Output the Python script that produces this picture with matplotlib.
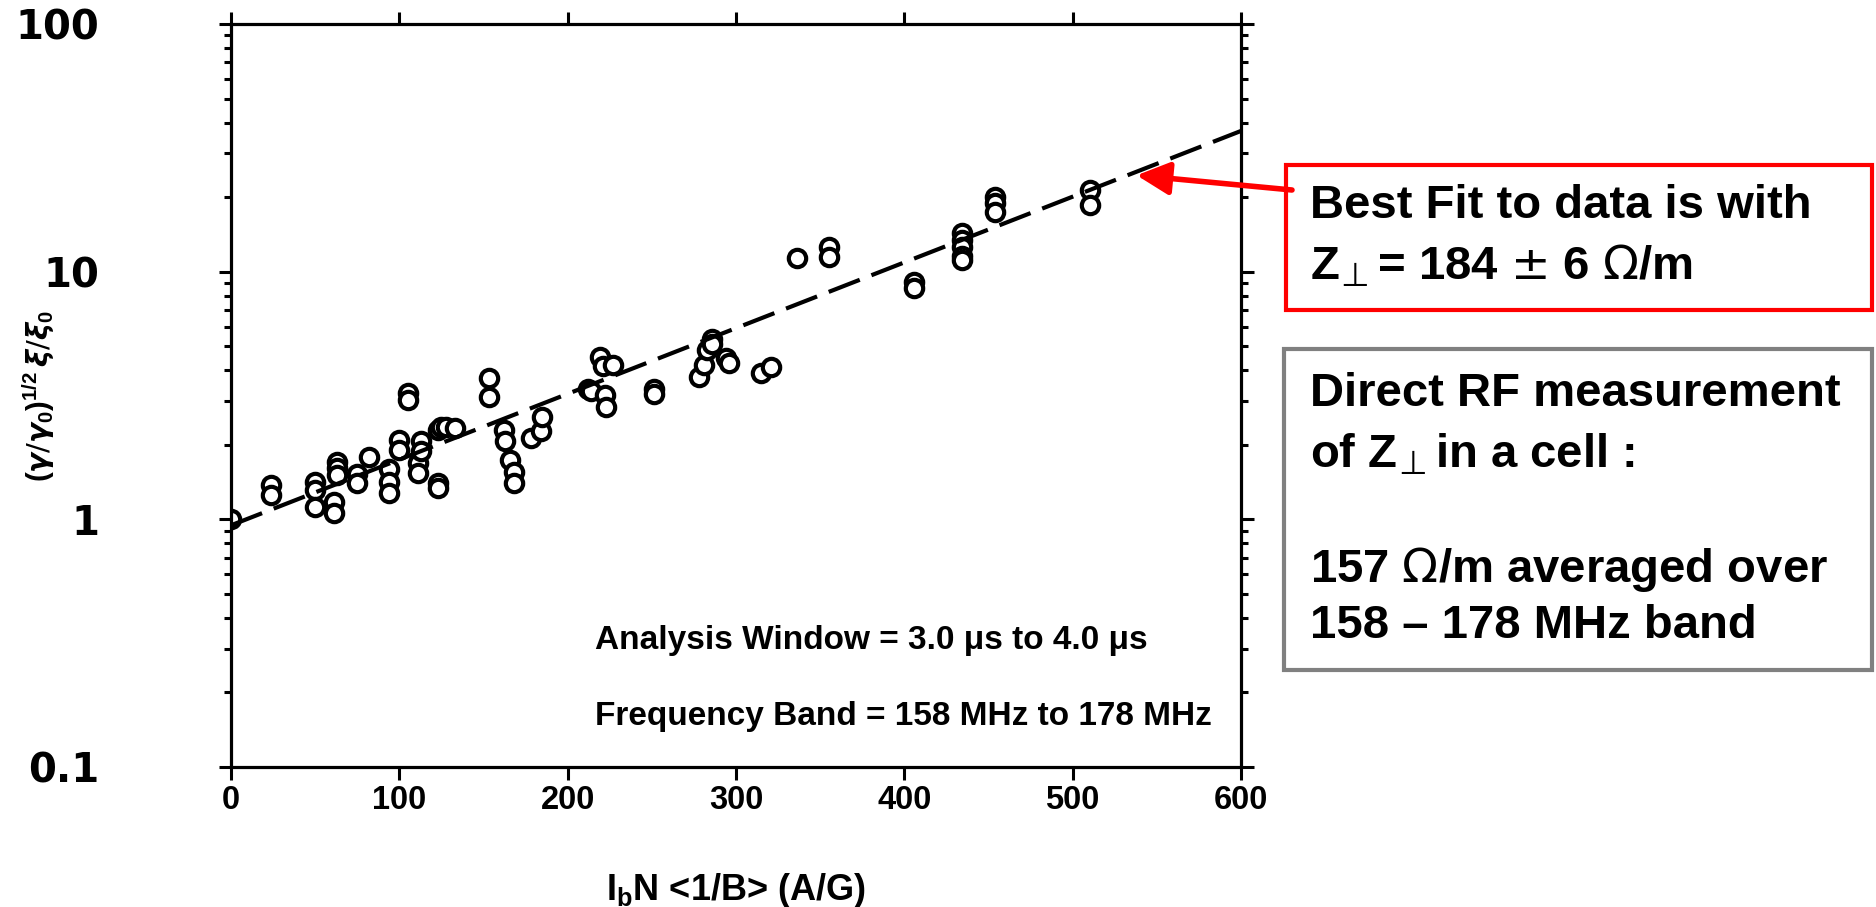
import matplotlib
matplotlib.use("Agg")
import matplotlib.pyplot as plt
from matplotlib.patches import Rectangle
from matplotlib.ticker import FixedLocator, LogLocator, NullFormatter

plt.rcParams['font.family'] = ['Liberation Sans', 'DejaVu Sans']
plt.rcParams['mathtext.fontset'] = 'custom'
plt.rcParams['mathtext.rm'] = 'DejaVu Sans'
plt.rcParams['mathtext.it'] = 'DejaVu Sans:italic:bold'
plt.rcParams['mathtext.bf'] = 'Liberation Sans:bold'
plt.rcParams['mathtext.fallback'] = 'stixsans'

ib_n = [0,
        24, 24,
        50, 50, 50,
        61, 61,
        63, 63, 63,
        75, 75,
        82,
        94, 94, 94,
        100, 100,
        105, 105,
        111, 111,
        113, 113,
        123, 123, 123,
        125, 128, 133,
        153, 153,
        162, 163, 166, 168, 168,
        178, 184, 185,
        212, 214,
        219, 221, 227,
        222, 223,
        251, 251,
        278, 281, 283, 286, 286,
        294, 296,
        315, 321,
        336,
        355, 355,
        406, 406,
        434, 434, 434, 434, 434,
        454, 454, 454,
        510, 510]
growth = [1.00,
          1.37, 1.25,
          1.41, 1.31, 1.12,
          1.17, 1.06,
          1.70, 1.61, 1.51,
          1.52, 1.40,
          1.79,
          1.60, 1.41, 1.28,
          2.09, 1.90,
          3.25, 3.03,
          1.69, 1.54,
          2.07, 1.88,
          2.30, 1.40, 1.34,
          2.36, 2.36, 2.33,
          3.72, 3.13,
          2.29, 2.07, 1.74, 1.56, 1.40,
          2.13, 2.27, 2.59,
          3.36, 3.30,
          4.53, 4.15, 4.20,
          3.18, 2.84,
          3.35, 3.20,
          3.76, 4.20, 4.83, 5.35, 5.10,
          4.48, 4.27,
          3.90, 4.12,
          11.4,
          12.6, 11.5,
          9.1, 8.6,
          14.3, 13.4, 12.6, 11.6, 11.1,
          20.0, 19.0, 17.4,
          21.4, 18.6]

# best fit line end points
fit_x = [0, 600]
fit_y = [0.946, 37.0]

x_ticks = [0, 100, 200, 300, 400, 500, 600]
y_ticks = [0.1, 1, 10, 100]
y_tick_labels = ['0.1', '1', '10', '100']

W, H = 1876, 907
fig = plt.figure(figsize=(W / 100, H / 100), dpi=100)
ax = fig.add_axes([231 / W, 1 - 767 / H, 1010 / W, 743 / H])

ax.plot(fit_x, fit_y, color='black', lw=3.0, dashes=(8, 3), zorder=3)
ax.plot(ib_n, growth, 'o', ms=12.5, mfc='white', mec='black', mew=3.0, zorder=2)

ax.set_yscale('log')
ax.set_xlim(0, 600)
ax.set_ylim(0.1, 100)

ax.xaxis.set_major_locator(FixedLocator(x_ticks))
ax.set_xticklabels([str(v) for v in x_ticks], fontsize=23.5, fontweight='bold')
ax.yaxis.set_major_locator(FixedLocator(y_ticks))
ax.set_yticklabels(y_tick_labels, fontsize=29, fontweight='bold', family='DejaVu Sans')
ax.yaxis.set_minor_locator(LogLocator(base=10, subs=range(2, 10)))
ax.yaxis.set_minor_formatter(NullFormatter())

for s in ax.spines.values():
    s.set_linewidth(2.3)
ax.tick_params(which='both', direction='out', top=True, right=True, width=2.2)
ax.tick_params(which='major', length=9)
ax.tick_params(which='minor', length=5)
ax.tick_params(axis='x', pad=4)
ax.tick_params(axis='y', pad=86)

ax.set_xlabel(r'I$_\mathbf{b}$N <1/B> (A/G)', fontsize=26, fontweight='bold')
ax.xaxis.set_label_coords(0.5, -0.14)
ax.set_ylabel(r'$\mathbf{(}\gamma/\gamma_\mathbf{0}\mathbf{)}^{\mathbf{1/2}}\,\xi/\xi_\mathbf{0}$',
              fontsize=21, fontweight='bold')
ax.yaxis.set_label_coords(-0.172, 0.50)

ax.text(595 / W, 1 - 640 / H, 'Analysis Window = 3.0 μs to 4.0 μs', transform=fig.transFigure,
        fontsize=24, fontweight='bold', va='center')
ax.text(595 / W, 1 - 716 / H, 'Frequency Band = 158 MHz to 178 MHz', transform=fig.transFigure,
        fontsize=24, fontweight='bold', va='center')

# text boxes on the right
fig.add_artist(Rectangle((1286 / W, 1 - 310 / H), 586 / W, 145 / H, transform=fig.transFigure,
                         fill=False, ec='#ff0000', lw=3))
fig.add_artist(Rectangle((1284 / W, 1 - 670 / H), 588 / W, 321 / H, transform=fig.transFigure,
                         fill=False, ec='#808080', lw=3))

box_kw = dict(fontsize=34, fontweight='bold', va='center')
fig.text(1310 / W, 1 - 206 / H, 'Best Fit to data is with', **box_kw)
fig.text(1310 / W, 1 - 266 / H, r'Z$_{\!\bot}$= 184 $\pm$ 6 $\Omega$/m', **box_kw)
fig.text(1310 / W, 1 - 394 / H, 'Direct RF measurement', **box_kw)
fig.text(1310 / W, 1 - 455 / H, r'of Z$_{\!\bot}$in a cell :', **box_kw)
fig.text(1310 / W, 1 - 570 / H, r'157 $\Omega$/m averaged over', **box_kw)
fig.text(1310 / W, 1 - 626 / H, '158 – 178 MHz band', **box_kw)

ax.annotate('', xy=(538, 24.5), xycoords='data', xytext=(1292 / W, 1 - 190 / H),
            textcoords='figure fraction', annotation_clip=False,
            arrowprops=dict(arrowstyle='-|>,head_length=0.5,head_width=0.25', color='#ff0000',
                            lw=4, mutation_scale=40, shrinkA=0, shrinkB=0))

fig.savefig('out.png', dpi=100)
